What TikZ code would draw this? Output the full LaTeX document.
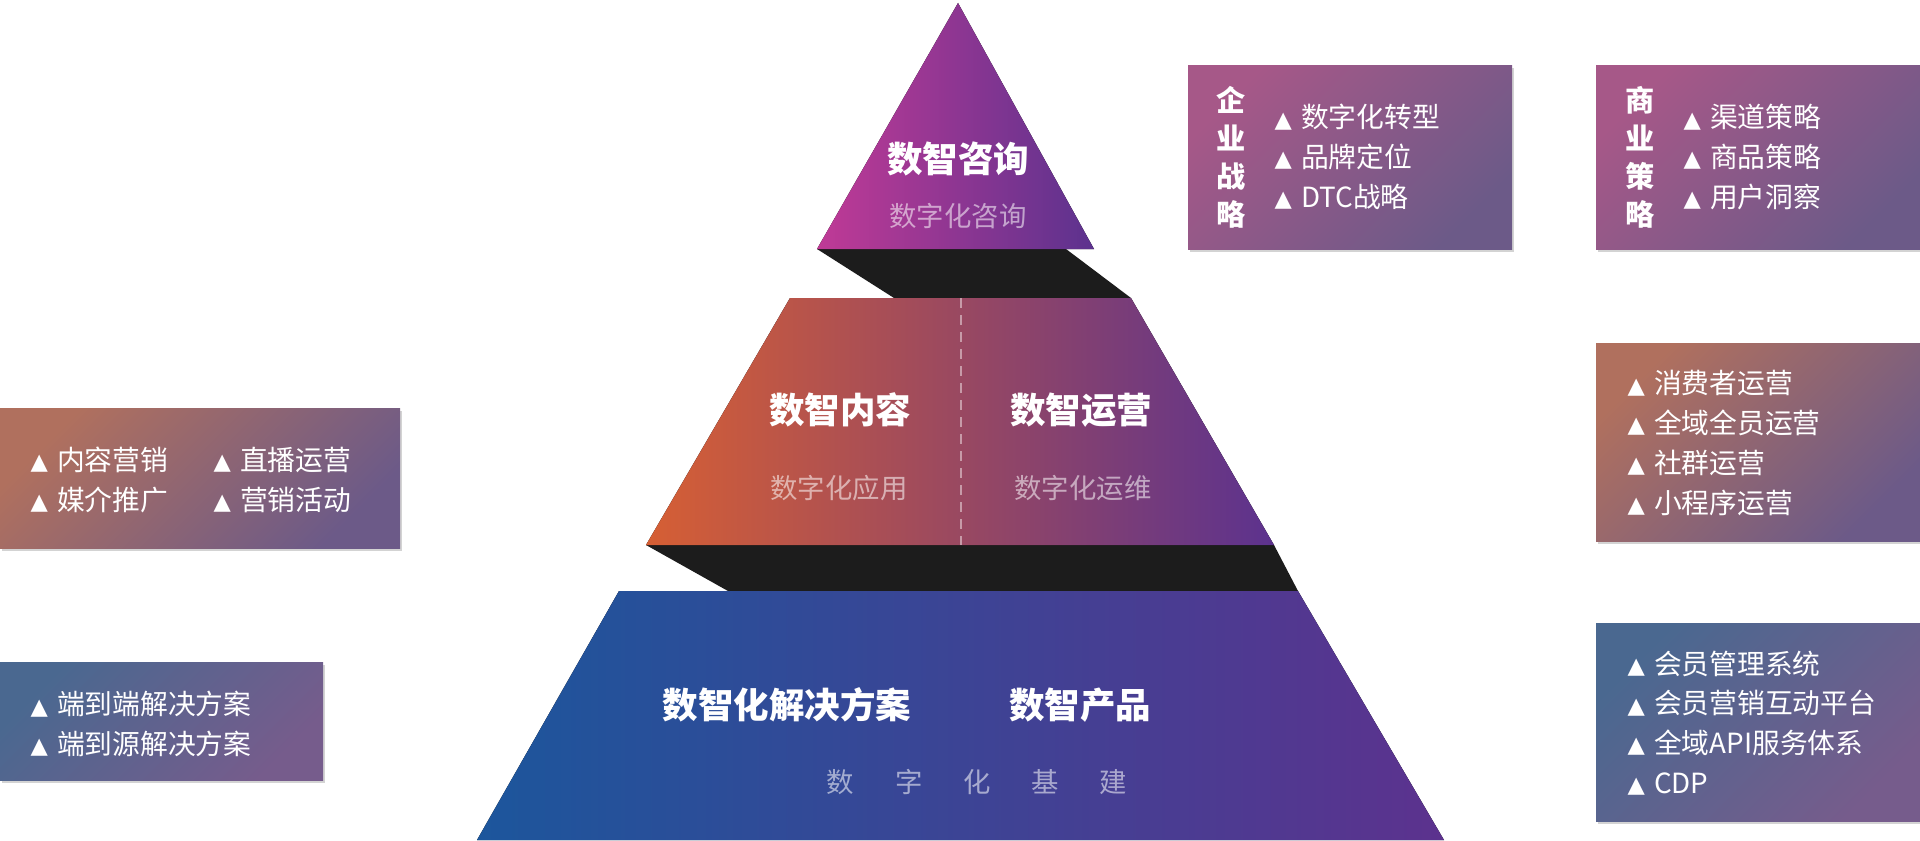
\documentclass[tikz,border=0pt]{standalone}
\usepackage{fontspec}
\newfontfamily\cjk{Noto Sans CJK SC}
\newfontfamily\symfont{DejaVu Sans}
\usetikzlibrary{positioning,shadows}
\usepackage{xcolor}
\definecolor{pyrmagenta}{RGB}{192,58,150}
\definecolor{pyrpurple}{RGB}{92,50,142}
\definecolor{pyrorange}{RGB}{214,95,52}
\definecolor{pyrblue}{RGB}{28,86,156}
\definecolor{pyrdark}{RGB}{28,28,28}
\definecolor{boxmauve}{RGB}{166,88,136}
\definecolor{boxviolet}{RGB}{108,90,136}
\definecolor{boxrust}{RGB}{176,112,94}
\definecolor{boxslate}{RGB}{74,104,144}
\definecolor{boxplum}{RGB}{118,92,140}
\newcommand{\tribullet}{{\symfont\fontsize{6.4pt}{6.4pt}\selectfont\raisebox{0.2pt}{▲}}\hspace{2.6pt}}
\tikzset{
  tiertitle/.style={
    font=\cjk\bfseries\fontsize{10.1pt}{12pt}\selectfont,
    text=white,
    inner sep=0pt
  },
  tiersub/.style={
    font=\cjk\fontsize{7.8pt}{9pt}\selectfont,
    text=white,
    text opacity=0.55,
    inner sep=0pt
  },
  sidebox/.style={
    rectangle,
    inner sep=0pt,
    drop shadow={shadow xshift=0.5pt, shadow yshift=-0.9pt, opacity=0.35}
  },
  boxhead/.style={
    font=\cjk\bfseries\fontsize{8.3pt}{10.8pt}\selectfont,
    text=white,
    align=center,
    inner sep=0pt
  },
  itemlist/.style={
    font=\cjk\fontsize{7.9pt}{11.3pt}\selectfont,
    text=white,
    align=left,
    anchor=west,
    inner sep=0pt
  }
}

\begin{document}
\begin{tikzpicture}[x=1cm, y=-1cm]
    \useasboundingbox (0,0) rectangle (19.2,8.4);

    % dark steps between the tiers
    \fill[pyrdark] (8.17,2.49) -- (10.66,2.49) -- (11.31,2.98) -- (8.94,2.98) -- cycle;
    \fill[pyrdark] (6.46,5.45) -- (12.74,5.45) -- (12.98,5.91) -- (7.28,5.91) -- cycle;

    % tiers
    \fill[left color=pyrmagenta, right color=pyrpurple] (9.58,0.03) -- (10.94,2.49) -- (8.17,2.49) -- cycle;
    \fill[left color=pyrorange, right color=pyrpurple] (7.90,2.98) -- (11.31,2.98) -- (12.74,5.45) -- (6.46,5.45) -- cycle;
    \fill[left color=pyrblue, right color=pyrpurple] (6.19,5.91) -- (12.98,5.91) -- (14.44,8.4) -- (4.77,8.4) -- cycle;
    \draw[white, opacity=0.45, line width=0.6pt, dash pattern=on 0.1cm off 0.07cm] (9.61,2.98) -- (9.61,5.45);

    \node (consult) [tiertitle] at (9.58,1.59) {数智咨询};
    \node (consultsub) [tiersub] at (9.58,2.16) {数字化咨询};
    \node (content) [tiertitle] at (8.40,4.10) {数智内容};
    \node (contentsub) [tiersub] at (8.39,4.88) {数字化应用};
    \node (ops) [tiertitle] at (10.81,4.10) {数智运营};
    \node (opssub) [tiersub] at (10.83,4.88) {数字化运维};
    \node (solution) [tiertitle] at (7.87,7.05) {数智化解决方案};
    \node (product) [tiertitle] at (10.80,7.05) {数智产品};
    \node (infra) [tiersub] at (9.77,7.82) {数\hspace{11.6pt}字\hspace{11.6pt}化\hspace{11.6pt}基\hspace{11.6pt}建};

    % side boxes
    \node (strategy) [sidebox, top color=boxmauve, bottom color=boxviolet, shading angle=45, minimum width=3.24cm, minimum height=1.84cm] at (13.50,1.57) {};
    \node (business) [sidebox, top color=boxmauve, bottom color=boxviolet, shading angle=45, minimum width=3.24cm, minimum height=1.84cm] at (17.58,1.57) {};
    \node (marketing) [sidebox, top color=boxrust, bottom color=boxviolet, shading angle=45, minimum width=4.00cm, minimum height=1.40cm] at (2.00,4.78) {};
    \node (endtoend) [sidebox, top color=boxslate, bottom color=boxplum, shading angle=45, minimum width=3.23cm, minimum height=1.18cm] at (1.615,7.21) {};
    \node (operation) [sidebox, top color=boxrust, bottom color=boxviolet, shading angle=45, minimum width=3.24cm, minimum height=1.98cm] at (17.58,4.42) {};
    \node (membership) [sidebox, top color=boxslate, bottom color=boxplum, shading angle=45, minimum width=3.24cm, minimum height=1.98cm] at (17.58,7.22) {};

    \node (strategyhead) [boxhead] at (12.31,1.57) {企\\业\\战\\略};
    \node (strategylist) [itemlist] at (12.74,1.57) {\tribullet 数字化转型\\\tribullet 品牌定位\\\tribullet DTC战略};
    \node (businesshead) [boxhead] at (16.40,1.57) {商\\业\\策\\略};
    \node (businesslist) [itemlist] at (16.83,1.57) {\tribullet 渠道策略\\\tribullet 商品策略\\\tribullet 用户洞察};
    \node (marketinglist) [itemlist] at (0.30,4.80) {\tribullet 内容营销\\\tribullet 媒介推广};
    \node (livelist) [itemlist] at (2.13,4.80) {\tribullet 直播运营\\\tribullet 营销活动};
    \node (endtoendlist) [itemlist] at (0.30,7.24) {\tribullet 端到端解决方案\\\tribullet 端到源解决方案};
    \node (operationlist) [itemlist] at (16.27,4.43) {\tribullet 消费者运营\\\tribullet 全域全员运营\\\tribullet 社群运营\\\tribullet 小程序运营};
    \node (membershiplist) [itemlist] at (16.27,7.23) {\tribullet 会员管理系统\\\tribullet 会员营销互动平台\\\tribullet 全域API服务体系\\\tribullet CDP};
\end{tikzpicture}
\end{document}
